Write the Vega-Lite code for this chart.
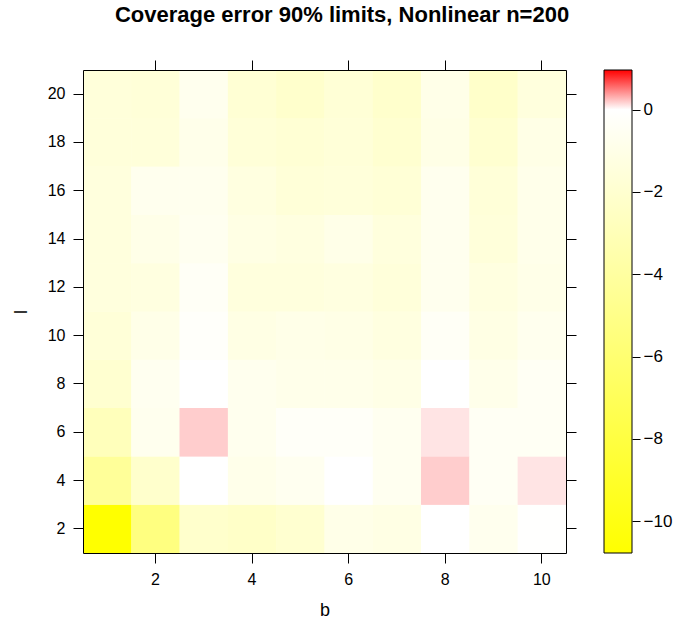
{
  "$schema": "https://vega.github.io/schema/vega-lite/v6.json",
  "padding": {"left": 12, "top": 3, "right": 3, "bottom": 4},
  "title": {
    "text": "Coverage error 90% limits, Nonlinear n=200",
    "font": "Liberation Sans",
    "fontSize": 22,
    "fontWeight": "bold",
    "color": "#000000",
    "anchor": "middle",
    "offset": 33
  },
  "datasets": {
    "cells": [
      {"b": 1, "l": 2, "err": -10.77}, {"b": 2, "l": 2, "err": -5.36}, {"b": 3, "l": 2, "err": -2.15}, {"b": 4, "l": 2, "err": -2.32}, {"b": 5, "l": 2, "err": -1.99},
      {"b": 6, "l": 2, "err": -0.97}, {"b": 7, "l": 2, "err": -1.14}, {"b": 8, "l": 2, "err": -0.02}, {"b": 9, "l": 2, "err": -0.72}, {"b": 10, "l": 2, "err": -0.05},
      {"b": 1, "l": 4, "err": -4.31}, {"b": 2, "l": 4, "err": -2.15}, {"b": 3, "l": 4, "err": -0.02}, {"b": 4, "l": 4, "err": -0.89}, {"b": 5, "l": 4, "err": -0.63},
      {"b": 6, "l": 4, "err": -0.02}, {"b": 7, "l": 4, "err": -0.63}, {"b": 8, "l": 4, "err": 0.19}, {"b": 9, "l": 4, "err": -0.46}, {"b": 10, "l": 4, "err": 0.1},
      {"b": 1, "l": 6, "err": -2.87}, {"b": 2, "l": 6, "err": -0.72}, {"b": 3, "l": 6, "err": 0.19}, {"b": 4, "l": 6, "err": -0.72}, {"b": 5, "l": 6, "err": -0.3},
      {"b": 6, "l": 6, "err": -0.3}, {"b": 7, "l": 6, "err": -0.63}, {"b": 8, "l": 6, "err": 0.1}, {"b": 9, "l": 6, "err": -0.46}, {"b": 10, "l": 6, "err": -0.46},
      {"b": 1, "l": 8, "err": -1.99}, {"b": 2, "l": 8, "err": -0.63}, {"b": 3, "l": 8, "err": -0.02}, {"b": 4, "l": 8, "err": -0.72}, {"b": 5, "l": 8, "err": -0.89},
      {"b": 6, "l": 8, "err": -0.89}, {"b": 7, "l": 8, "err": -1.06}, {"b": 8, "l": 8, "err": -0.02}, {"b": 9, "l": 8, "err": -0.89}, {"b": 10, "l": 8, "err": -0.46},
      {"b": 1, "l": 10, "err": -1.65}, {"b": 2, "l": 10, "err": -0.97}, {"b": 3, "l": 10, "err": -0.21}, {"b": 4, "l": 10, "err": -1.14}, {"b": 5, "l": 10, "err": -0.97},
      {"b": 6, "l": 10, "err": -1.06}, {"b": 7, "l": 10, "err": -1.31}, {"b": 8, "l": 10, "err": -0.38}, {"b": 9, "l": 10, "err": -1.14}, {"b": 10, "l": 10, "err": -0.72},
      {"b": 1, "l": 12, "err": -1.44}, {"b": 2, "l": 12, "err": -1.31}, {"b": 3, "l": 12, "err": -0.38}, {"b": 4, "l": 12, "err": -1.44}, {"b": 5, "l": 12, "err": -1.44},
      {"b": 6, "l": 12, "err": -1.31}, {"b": 7, "l": 12, "err": -1.56}, {"b": 8, "l": 12, "err": -0.72}, {"b": 9, "l": 12, "err": -1.31}, {"b": 10, "l": 12, "err": -0.97},
      {"b": 1, "l": 14, "err": -1.44}, {"b": 2, "l": 14, "err": -0.97}, {"b": 3, "l": 14, "err": -0.63}, {"b": 4, "l": 14, "err": -1.14}, {"b": 5, "l": 14, "err": -1.31},
      {"b": 6, "l": 14, "err": -0.97}, {"b": 7, "l": 14, "err": -1.44}, {"b": 8, "l": 14, "err": -0.72}, {"b": 9, "l": 14, "err": -1.56}, {"b": 10, "l": 14, "err": -0.89},
      {"b": 1, "l": 16, "err": -1.44}, {"b": 2, "l": 16, "err": -0.72}, {"b": 3, "l": 16, "err": -0.72}, {"b": 4, "l": 16, "err": -1.31}, {"b": 5, "l": 16, "err": -1.65},
      {"b": 6, "l": 16, "err": -1.56}, {"b": 7, "l": 16, "err": -1.73}, {"b": 8, "l": 16, "err": -0.72}, {"b": 9, "l": 16, "err": -1.65}, {"b": 10, "l": 16, "err": -0.89},
      {"b": 1, "l": 18, "err": -1.56}, {"b": 2, "l": 18, "err": -1.56}, {"b": 3, "l": 18, "err": -0.89}, {"b": 4, "l": 18, "err": -1.65}, {"b": 5, "l": 18, "err": -1.82},
      {"b": 6, "l": 18, "err": -1.65}, {"b": 7, "l": 18, "err": -1.99}, {"b": 8, "l": 18, "err": -1.06}, {"b": 9, "l": 18, "err": -1.99}, {"b": 10, "l": 18, "err": -1.06},
      {"b": 1, "l": 20, "err": -1.56}, {"b": 2, "l": 20, "err": -1.65}, {"b": 3, "l": 20, "err": -0.72}, {"b": 4, "l": 20, "err": -1.82}, {"b": 5, "l": 20, "err": -2.15},
      {"b": 6, "l": 20, "err": -1.73}, {"b": 7, "l": 20, "err": -2.15}, {"b": 8, "l": 20, "err": -0.97}, {"b": 9, "l": 20, "err": -2.24}, {"b": 10, "l": 20, "err": -1.44}
    ],
    "key": [{"key_min": -10.77, "key_max": 0.96}]
  },
  "bounds": "flush",
  "spacing": 38,
  "hconcat": [
    {
      "data": {"name": "cells"},
      "width": 483,
      "height": 483,
      "layer": [
        {
          "mark": {"type": "rect"},
          "encoding": {
            "x": {"field": "b", "type": "ordinal", "scale": {"paddingInner": 0, "paddingOuter": 0},
                  "axis": {"orient": "bottom", "values": [2, 4, 6, 8, 10], "labelAngle": 0, "title": "b", "labelPadding": 8.5, "titlePadding": 13.5}},
            "y": {"field": "l", "type": "ordinal", "sort": "descending", "scale": {"paddingInner": 0, "paddingOuter": 0},
                  "axis": {"orient": "left", "labelAngle": 0, "title": "l", "labelPadding": 8, "titlePadding": 17}},
            "color": {"field": "err", "type": "quantitative",
                      "scale": {"domain": [-10.77, 0, 0.96], "range": ["#ffff00", "#ffffff", "#ff0000"], "interpolate": "rgb"},
                      "legend": null}
          }
        },
        {
          "mark": {"type": "rect"},
          "encoding": {
            "x": {"field": "b", "type": "ordinal",
                  "axis": {"orient": "top", "values": [2, 4, 6, 8, 10], "labels": false, "title": null}},
            "y": {"field": "l", "type": "ordinal", "sort": "descending",
                  "axis": {"orient": "right", "labels": false, "title": null}},
            "color": {"field": "err", "type": "quantitative", "legend": null}
          }
        }
      ],
      "resolve": {"axis": {"x": "independent", "y": "independent"}}
    },
    {
      "data": {"name": "key"},
      "width": 28,
      "height": 483,
      "mark": {
        "type": "rect",
        "fill": {
          "gradient": "linear", "x1": 0, "y1": 1, "x2": 0, "y2": 0,
          "stops": [
            {"offset": 0, "color": "#ffff00"},
            {"offset": 0.9182, "color": "#ffffff"},
            {"offset": 1, "color": "#ff0000"}
          ]
        },
        "stroke": "#000000",
        "strokeWidth": 1
      },
      "encoding": {
        "y": {"field": "key_min", "type": "quantitative",
              "scale": {"domain": [-10.77, 0.96], "nice": false, "zero": false},
              "axis": {"orient": "right", "values": [-10, -8, -6, -4, -2, 0], "title": null, "domain": false,
                       "tickSize": 8, "labelPadding": 3, "labelFontSize": 17}},
        "y2": {"field": "key_max"}
      }
    }
  ],
  "config": {
    "view": {"stroke": null},
    "font": "Liberation Sans",
    "axis": {
      "domainColor": "#000000",
      "domainWidth": 1,
      "tickColor": "#000000",
      "tickWidth": 1,
      "tickSize": 10,
      "labelColor": "#000000",
      "labelFont": "Liberation Sans",
      "labelFontSize": 16,
      "titleColor": "#000000",
      "titleFont": "Liberation Sans",
      "titleFontSize": 18,
      "titleFontWeight": "normal",
      "grid": false
    }
  }
}
